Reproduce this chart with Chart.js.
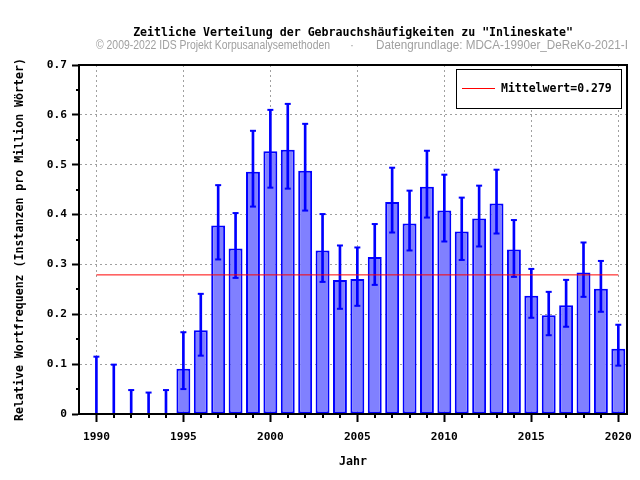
<!DOCTYPE html>
<html>
<head>
<meta charset="utf-8">
<script src="https://cdn.jsdelivr.net/npm/chart.js@4/dist/chart.umd.min.js"></script>
<style>
html,body{margin:0;padding:0;background:#fff;}
#wrap{width:640px;height:480px;position:relative;}
</style>
</head>
<body>
<div id="wrap"><canvas id="c" width="640" height="480"></canvas></div>
<script>
const years = [1990,1991,1992,1993,1994,1995,1996,1997,1998,1999,2000,2001,2002,2003,2004,2005,2006,2007,2008,2009,2010,2011,2012,2013,2014,2015,2016,2017,2018,2019,2020];
const values = [0,0,0,0,0,0.091,0.168,0.378,0.332,0.486,0.527,0.530,0.488,0.328,0.269,0.271,0.315,0.425,0.382,0.456,0.408,0.366,0.392,0.422,0.330,0.237,0.198,0.218,0.284,0.251,0.131];
const upper = [0.115,0.099,0.048,0.043,0.048,0.164,0.241,0.459,0.403,0.568,0.610,0.622,0.582,0.401,0.338,0.334,0.381,0.494,0.448,0.528,0.480,0.434,0.458,0.490,0.389,0.291,0.245,0.269,0.344,0.307,0.179];
const lower = [0,0,0,0,0,0.050,0.117,0.310,0.273,0.416,0.454,0.452,0.408,0.265,0.211,0.217,0.259,0.364,0.328,0.394,0.346,0.309,0.336,0.362,0.275,0.193,0.158,0.175,0.235,0.205,0.097];
const meanValue = 0.279;
const yTicks = [0,0.1,0.2,0.3,0.4,0.5,0.6,0.7];
const xTicks = [1990,1995,2000,2005,2010,2015,2020];

const titleText = 'Zeitliche Verteilung der Gebrauchshäufigkeiten zu "Inlineskate"';
const subLeft = '© 2009-2022 IDS Projekt Korpusanalysemethoden';
const subDot = '·';
const subRight = 'Datengrundlage: MDCA-1990er_DeReKo-2021-I';
const xTitle = 'Jahr';
const yTitle = 'Relative Wortfrequenz (Instanzen pro Million Wörter)';
const legendText = 'Mittelwert=' + meanValue.toFixed(3);

const MONO = "'DejaVu Sans Mono', 'Liberation Mono', monospace";
const NARROW = "'Liberation Sans Narrow', 'Liberation Sans', 'DejaVu Sans', sans-serif";
const BLUE = '#0000ff';

function fitText(ctx, text, x, y, targetW) {
  const w = ctx.measureText(text).width;
  const s = targetW / w;
  ctx.save();
  ctx.translate(x, y);
  ctx.scale(s, 1);
  ctx.textAlign = 'left';
  ctx.fillText(text, 0, 0);
  ctx.restore();
}

const decor = {
  id: 'decor',
  afterDraw(chart) {
    const ctx = chart.ctx;
    const a = chart.chartArea;
    const xs = chart.scales.x, ys = chart.scales.y;
    ctx.save();
    // minor ticks
    ctx.strokeStyle = '#000';
    ctx.lineWidth = 2;
    ctx.beginPath();
    years.forEach(yr => {
      if (yr % 5 !== 0) {
        const px = Math.round(xs.getPixelForValue(yr));
        ctx.moveTo(px, a.bottom);
        ctx.lineTo(px, a.bottom + 4);
      }
    });
    for (let i = 0; i < yTicks.length - 1; i++) {
      const v = (yTicks[i] + yTicks[i + 1]) / 2;
      const py = Math.round(ys.getPixelForValue(v));
      ctx.moveTo(a.left, py);
      ctx.lineTo(a.left - 3, py);
    }
    ctx.stroke();
    // frame
    ctx.lineWidth = 2;
    ctx.strokeRect(a.left, a.top, a.right - a.left, a.bottom - a.top);
    // legend
    ctx.fillStyle = '#fff';
    ctx.fillRect(456, 69, 165, 39);
    ctx.lineWidth = 1;
    ctx.strokeStyle = '#000';
    ctx.strokeRect(456.5, 69.5, 165, 39);
    ctx.strokeStyle = '#ff0000';
    ctx.beginPath();
    ctx.moveTo(462, 88.5);
    ctx.lineTo(495, 88.5);
    ctx.stroke();
    ctx.fillStyle = '#000';
    ctx.font = 'bold 11.5px ' + MONO;
    ctx.textBaseline = 'middle';
    ctx.textAlign = 'left';
    ctx.fillText(legendText, 501, 89);
    // title
    ctx.textAlign = 'center';
    ctx.font = 'bold 11.6px ' + MONO;
    ctx.fillText(titleText, (a.left + a.right) / 2, 33);
    // subtitle
    ctx.fillStyle = '#a0a0a0';
    ctx.font = '12px ' + NARROW;
    fitText(ctx, subLeft, 96, 46, 234);
    ctx.textAlign = 'center';
    ctx.fillText(subDot, 352, 46);
    fitText(ctx, subRight, 376, 46, 252);
    // axis titles
    ctx.fillStyle = '#000';
    ctx.font = 'bold 11.6px ' + MONO;
    ctx.textAlign = 'center';
    ctx.fillText(xTitle, (a.left + a.right) / 2, 462);
    ctx.translate(20, (a.top + a.bottom) / 2);
    ctx.rotate(-Math.PI / 2);
    ctx.fillText(yTitle, 0, 0);
    ctx.restore();
  }
};

const barData = years.map((y, i) => ({x: y, y: values[i]}));
const stemData = years.map((y, i) => ({x: y, y: [lower[i], upper[i]]}));
const capData = [];
years.forEach((y, i) => {
  capData.push({x: y, y: upper[i]});
  capData.push({x: y, y: lower[i]});
});
const meanData = [{x: years[0], y: meanValue}, {x: years[years.length - 1], y: meanValue}];

new Chart(document.getElementById('c'), {
  type: 'bar',
  data: {
    datasets: [
      {
        type: 'line', data: meanData, borderColor: '#ff0000', borderWidth: 1,
        pointRadius: 0, fill: false, order: 0
      },
      {
        type: 'line', data: capData, showLine: false, pointStyle: 'line',
        pointRadius: 3, pointBorderWidth: 2, pointBorderColor: BLUE, borderColor: BLUE,
        order: 1
      },
      {
        type: 'bar', data: stemData, backgroundColor: BLUE, borderWidth: 0,
        barThickness: 2, grouped: false, order: 2
      },
      {
        type: 'bar', data: barData, backgroundColor: '#8080ff', borderColor: BLUE,
        borderWidth: 2, borderSkipped: false, grouped: false,
        categoryPercentage: 1, barPercentage: 0.8, order: 3
      }
    ]
  },
  options: {
    responsive: false,
    animation: false,
    events: [],
    layout: {padding: {top: 65, right: 13, left: 0, bottom: 0}},
    plugins: {legend: {display: false}, tooltip: {enabled: false}, title: {display: false}},
    scales: {
      x: {
        type: 'linear', min: 1989, max: 2020.5, offset: false,
        afterFit(s) { s.height = 66; },
        afterBuildTicks(s) { s.ticks = xTicks.map(v => ({value: v})); },
        ticks: {
          color: '#000', font: {family: MONO, size: 11.2, weight: 'bold'},
          padding: 8, maxRotation: 0, autoSkip: false,
          callback: v => String(v)
        },
        grid: {offset: false, color: '#a0a0a0', lineWidth: 1, tickColor: '#000', tickWidth: 2, tickLength: 8, tickBorderDash: []},
        border: {display: true, color: '#000', width: 2, dash: [2, 3]}
      },
      y: {
        type: 'linear', min: 0, max: 0.7,
        afterFit(s) { s.width = 79; },
        afterBuildTicks(s) { s.ticks = yTicks.map(v => ({value: v})); },
        ticks: {
          color: '#000', font: {family: MONO, size: 11.2, weight: 'bold'},
          padding: 5,
          callback: v => (v === 0 ? '0' : v.toFixed(1))
        },
        grid: {color: '#a0a0a0', lineWidth: 1, tickColor: '#000', tickWidth: 2, tickLength: 7, tickBorderDash: []},
        border: {display: true, color: '#000', width: 2, dash: [2, 3]}
      }
    }
  },
  plugins: [decor]
});
</script>
</body>
</html>
